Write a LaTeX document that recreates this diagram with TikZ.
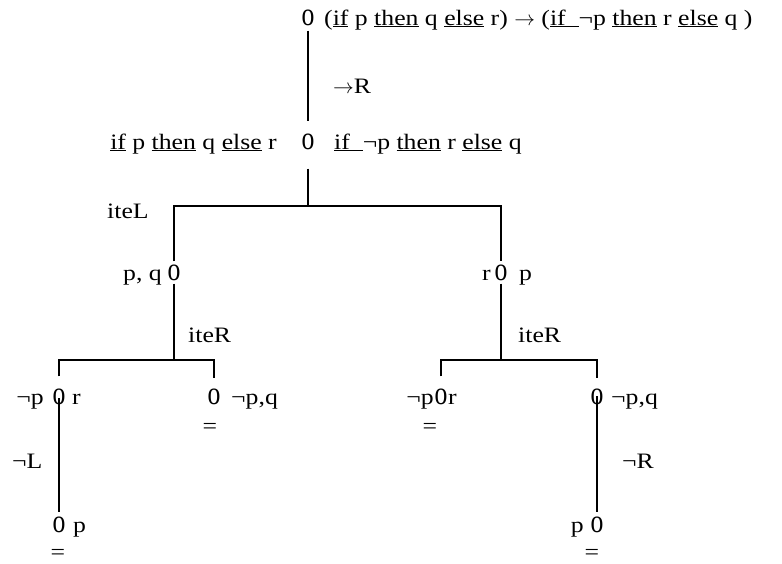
\documentclass[tikz,border=0pt]{standalone}
\usepackage{fontspec}
\setmainfont{Liberation Serif}[FakeStretch=1.17]
\usetikzlibrary{positioning}

\newcommand{\ul}[1]{\underline{#1}}
\newcommand{\vtx}{\scalebox{1}[1.5]{o}}

\begin{document}
\begin{tikzpicture}[x=1pt,y=-1pt,
  txt/.style={font=\fontsize{22}{26}\selectfont, inner sep=0pt},
  nd/.style={txt, anchor=base},
  lbl/.style={txt, anchor=base west},
  lbr/.style={txt, anchor=base east},
  eq/.style={txt, anchor=center},
  edge/.style={line width=1.2pt}]
\useasboundingbox (0,0) rectangle (782,563);
% root
\node (n0) at (308,25) [nd] {\vtx};
\node (t0) at (324,25) [lbl] {(\ul{if} p \ul{then} q \ul{else} r) $\rightarrow$ (\ul{if\ \ }¬p \ul{then} r \ul{else} q )};
\node (r0) at (333,93) [lbl] {$\rightarrow$R};
% level 1
\node (n1) at (308,149) [nd] {\vtx};
\node (t1l) at (277,149) [lbr] {\ul{if} p \ul{then} q \ul{else} r};
\node (t1r) at (334,149) [lbl] {\ul{if\ \ }¬p \ul{then} r \ul{else} q};
\node (r1) at (107,218) [lbl] {iteL};
\coordinate (b1) at (308,206);
% level 2
\node (n2) at (174,280) [nd] {\vtx};
\node (t2) at (162,280) [lbr] {p, q};
\node (n3) at (501,280) [nd] {\vtx};
\node (t3l) at (491,280) [lbr] {r};
\node (t3r) at (519,280) [lbl] {p};
\node (r2) at (188,342) [lbl] {iteR};
\node (r3) at (518,342) [lbl] {iteR};
\coordinate (b2) at (174,360);
\coordinate (b3) at (501,360);
% level 3
\node (n4) at (59,404) [nd] {\vtx};
\node (t4l) at (44,404) [lbr] {¬p};
\node (t4r) at (72,404) [lbl] {r};
\node (n5) at (214,404) [nd] {\vtx};
\node (t5) at (231,404) [lbl] {¬p,q};
\node (e5) at (210,428) [eq] {=};
\node (n6) at (441,404) [nd] {\vtx};
\node (t6l) at (434,404) [lbr] {¬p};
\node (t6r) at (448,404) [lbl] {r};
\node (e6) at (430,428) [eq] {=};
\node (n7) at (597,404) [nd] {\vtx};
\node (t7) at (611,404) [lbl] {¬p,q};
\node (r4) at (12,468) [lbl] {¬L};
\node (r5) at (622,468) [lbl] {¬R};
% leaves
\node (n8) at (59,532) [nd] {\vtx};
\node (t8) at (73,532) [lbl] {p};
\node (e8) at (58,554) [eq] {=};
\node (n9) at (597,532) [nd] {\vtx};
\node (t9) at (584,532) [lbr] {p};
\node (e9) at (592,554) [eq] {=};
% connectors
\draw [edge, shorten <=5pt, shorten >=12pt] (n0.south) -- (n1.north);
\draw [edge, shorten <=19pt] (n1.south) -- (b1);
\draw [edge, shorten <=3pt, shorten >=3pt] (n2.north) |- (b1) -| (n3.north);
\draw [edge, shorten <=3pt] (n2.south) -- (b2);
\draw [edge, shorten <=3pt] (n3.south) -- (b3);
\draw [edge, shorten <=12pt, shorten >=10pt] (n4.north) |- (b2) -| (n5.north);
\draw [edge, shorten <=12pt, shorten >=10pt] (n6.north) |- (b3) -| (n7.north);
\draw [edge, shorten <=2pt, shorten >=4pt] (n4.center) -- (n8.north);
\draw [edge, shorten >=4pt] (n7.center) -- (n9.north);
\end{tikzpicture}
\end{document}
